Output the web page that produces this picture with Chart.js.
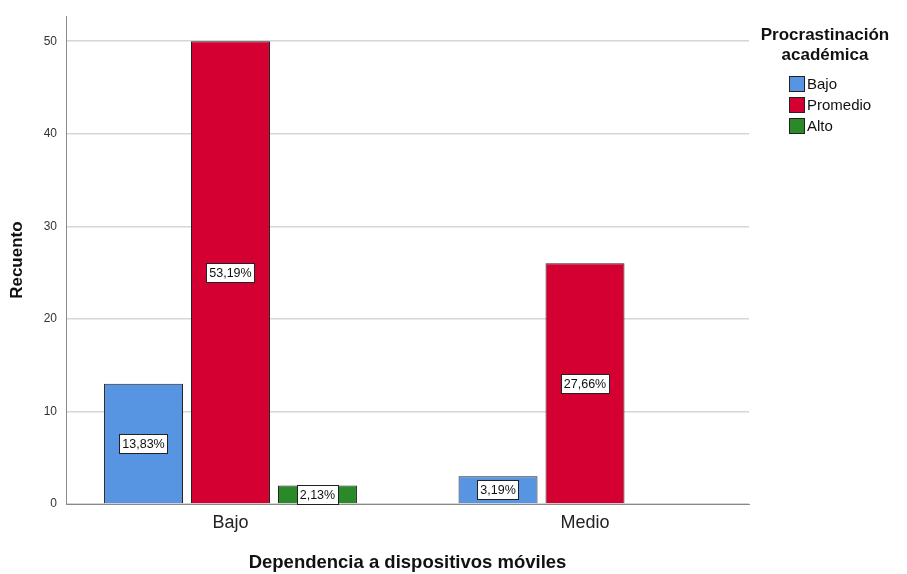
<!DOCTYPE html>
<html lang="es">
<head>
<meta charset="UTF-8">
<title>Dependencia a dispositivos móviles</title>
<script src="https://cdn.jsdelivr.net/npm/chart.js"></script>
<style>
  body { margin: 0; background: #fff; }
</style>
</head>
<body>
<canvas id="myChart" width="907" height="574"></canvas>
<script>
// datos
const categories = ['Bajo', 'Medio'];
const seriesNames = ['Bajo', 'Promedio', 'Alto'];
const bajoCounts = [13, 3];
const promedioCounts = [50, 26];
const altoCounts = [2, null];
const bajoPct = ['13,83%', '3,19%'];
const promedioPct = ['53,19%', '27,66%'];
const altoPct = ['2,13%', null];
const yTicks = [0, 10, 20, 30, 40, 50];

const colors = ['#5795e3', '#d50032', '#2a8a2a'];
const FONT = "'Liberation Sans', Arial, sans-serif";

function toPoints(values) {
    return values.map((v, i) => ({ x: i, y: v }));
}

// etiquetas de porcentaje en cajitas blancas
const pctLabels = {
    id: 'pctLabels',
    afterDatasetsDraw(chart) {
        const ctx = chart.ctx;
        ctx.save();
        ctx.font = '12.5px ' + FONT;
        ctx.textAlign = 'center';
        ctx.textBaseline = 'middle';
        chart.data.datasets.forEach((ds, di) => {
            const meta = chart.getDatasetMeta(di);
            meta.data.forEach((bar, i) => {
                const txt = ds.pct[i];
                if (!txt) return;
                const cx = bar.x;
                const cy = (bar.y + bar.base) / 2;
                const w = ctx.measureText(txt).width + 6;
                const h = 19;
                const x0 = Math.round(cx - w / 2) + 0.5;
                const y0 = Math.round(cy - h / 2) + 0.5;
                ctx.fillStyle = '#fff';
                ctx.fillRect(x0, y0, Math.round(w), h);
                ctx.strokeStyle = '#222';
                ctx.lineWidth = 1;
                ctx.strokeRect(x0, y0, Math.round(w), h);
                ctx.fillStyle = '#111';
                ctx.fillText(txt, cx, cy + 1);
            });
        });
        ctx.restore();
    }
};

// leyenda a la derecha
const sideLegend = {
    id: 'sideLegend',
    afterDraw(chart) {
        const ctx = chart.ctx;
        ctx.save();
        ctx.fillStyle = '#111';
        ctx.font = 'bold 17px ' + FONT;
        ctx.textAlign = 'center';
        ctx.textBaseline = 'middle';
        ctx.fillText('Procrastinación', 825, 35);
        ctx.fillText('académica', 825, 55);
        ctx.font = '15px ' + FONT;
        ctx.textAlign = 'left';
        chart.data.datasets.forEach((ds, i) => {
            const y = 84 + i * 21;
            ctx.fillStyle = ds.backgroundColor;
            ctx.fillRect(789.5, y - 7.5, 15, 15);
            ctx.strokeStyle = '#222';
            ctx.lineWidth = 1;
            ctx.strokeRect(789.5, y - 7.5, 15, 15);
            ctx.fillStyle = '#111';
            ctx.fillText(ds.label, 807, y + 1);
        });
        ctx.restore();
    }
};

const ctx = document.getElementById('myChart').getContext('2d');
new Chart(ctx, {
    type: 'bar',
    data: {
        datasets: [
            { label: seriesNames[0], data: toPoints(bajoCounts), pct: bajoPct, backgroundColor: colors[0] },
            { label: seriesNames[1], data: toPoints(promedioCounts), pct: promedioPct, backgroundColor: colors[1] },
            { label: seriesNames[2], data: toPoints(altoCounts), pct: altoPct, backgroundColor: colors[2] }
        ]
    },
    options: {
        responsive: false,
        animation: false,
        layout: { padding: { top: 15, right: 158, left: 0, bottom: 0 } },
        datasets: {
            bar: {
                borderColor: '#222',
                borderWidth: 1,
                categoryPercentage: 0.736,
                barPercentage: 0.908
            }
        },
        plugins: {
            legend: { display: false },
            tooltip: { enabled: false }
        },
        scales: {
            x: {
                type: 'linear',
                offset: false,
                bounds: 'data',
                min: -0.464,
                max: 1.4626,
                grid: { display: false, drawTicks: false, offset: false },
                border: { display: true, color: '#8a8a8a', width: 1 },
                afterBuildTicks: (scale) => {
                    scale.ticks = categories.map((c, i) => ({ value: i }));
                },
                afterFit: (scale) => { scale.height = 70; },
                ticks: {
                    padding: 8,
                    color: '#222',
                    font: { family: FONT, size: 18 },
                    callback: (v) => categories[v]
                },
                title: {
                    display: true,
                    text: 'Dependencia a dispositivos móviles',
                    color: '#111',
                    font: { family: FONT, size: 18.5, weight: 'bold' },
                    padding: { top: 4, bottom: 0 }
                }
            },
            y: {
                min: 0,
                max: 52.7,
                grid: { color: '#d6d6d6', lineWidth: 1.5, drawTicks: false },
                border: { display: true, color: '#8a8a8a', width: 1 },
                afterBuildTicks: (scale) => {
                    scale.ticks = yTicks.map(v => ({ value: v }));
                },
                afterFit: (scale) => { scale.width = 66; },
                ticks: {
                    padding: 9,
                    color: '#333',
                    font: { family: FONT, size: 12 }
                },
                title: {
                    display: true,
                    text: 'Recuento',
                    color: '#111',
                    font: { family: FONT, size: 17, weight: 'bold' },
                    padding: { top: 7, bottom: 4 }
                }
            }
        }
    },
    plugins: [pctLabels, sideLegend]
});
</script>
</body>
</html>
